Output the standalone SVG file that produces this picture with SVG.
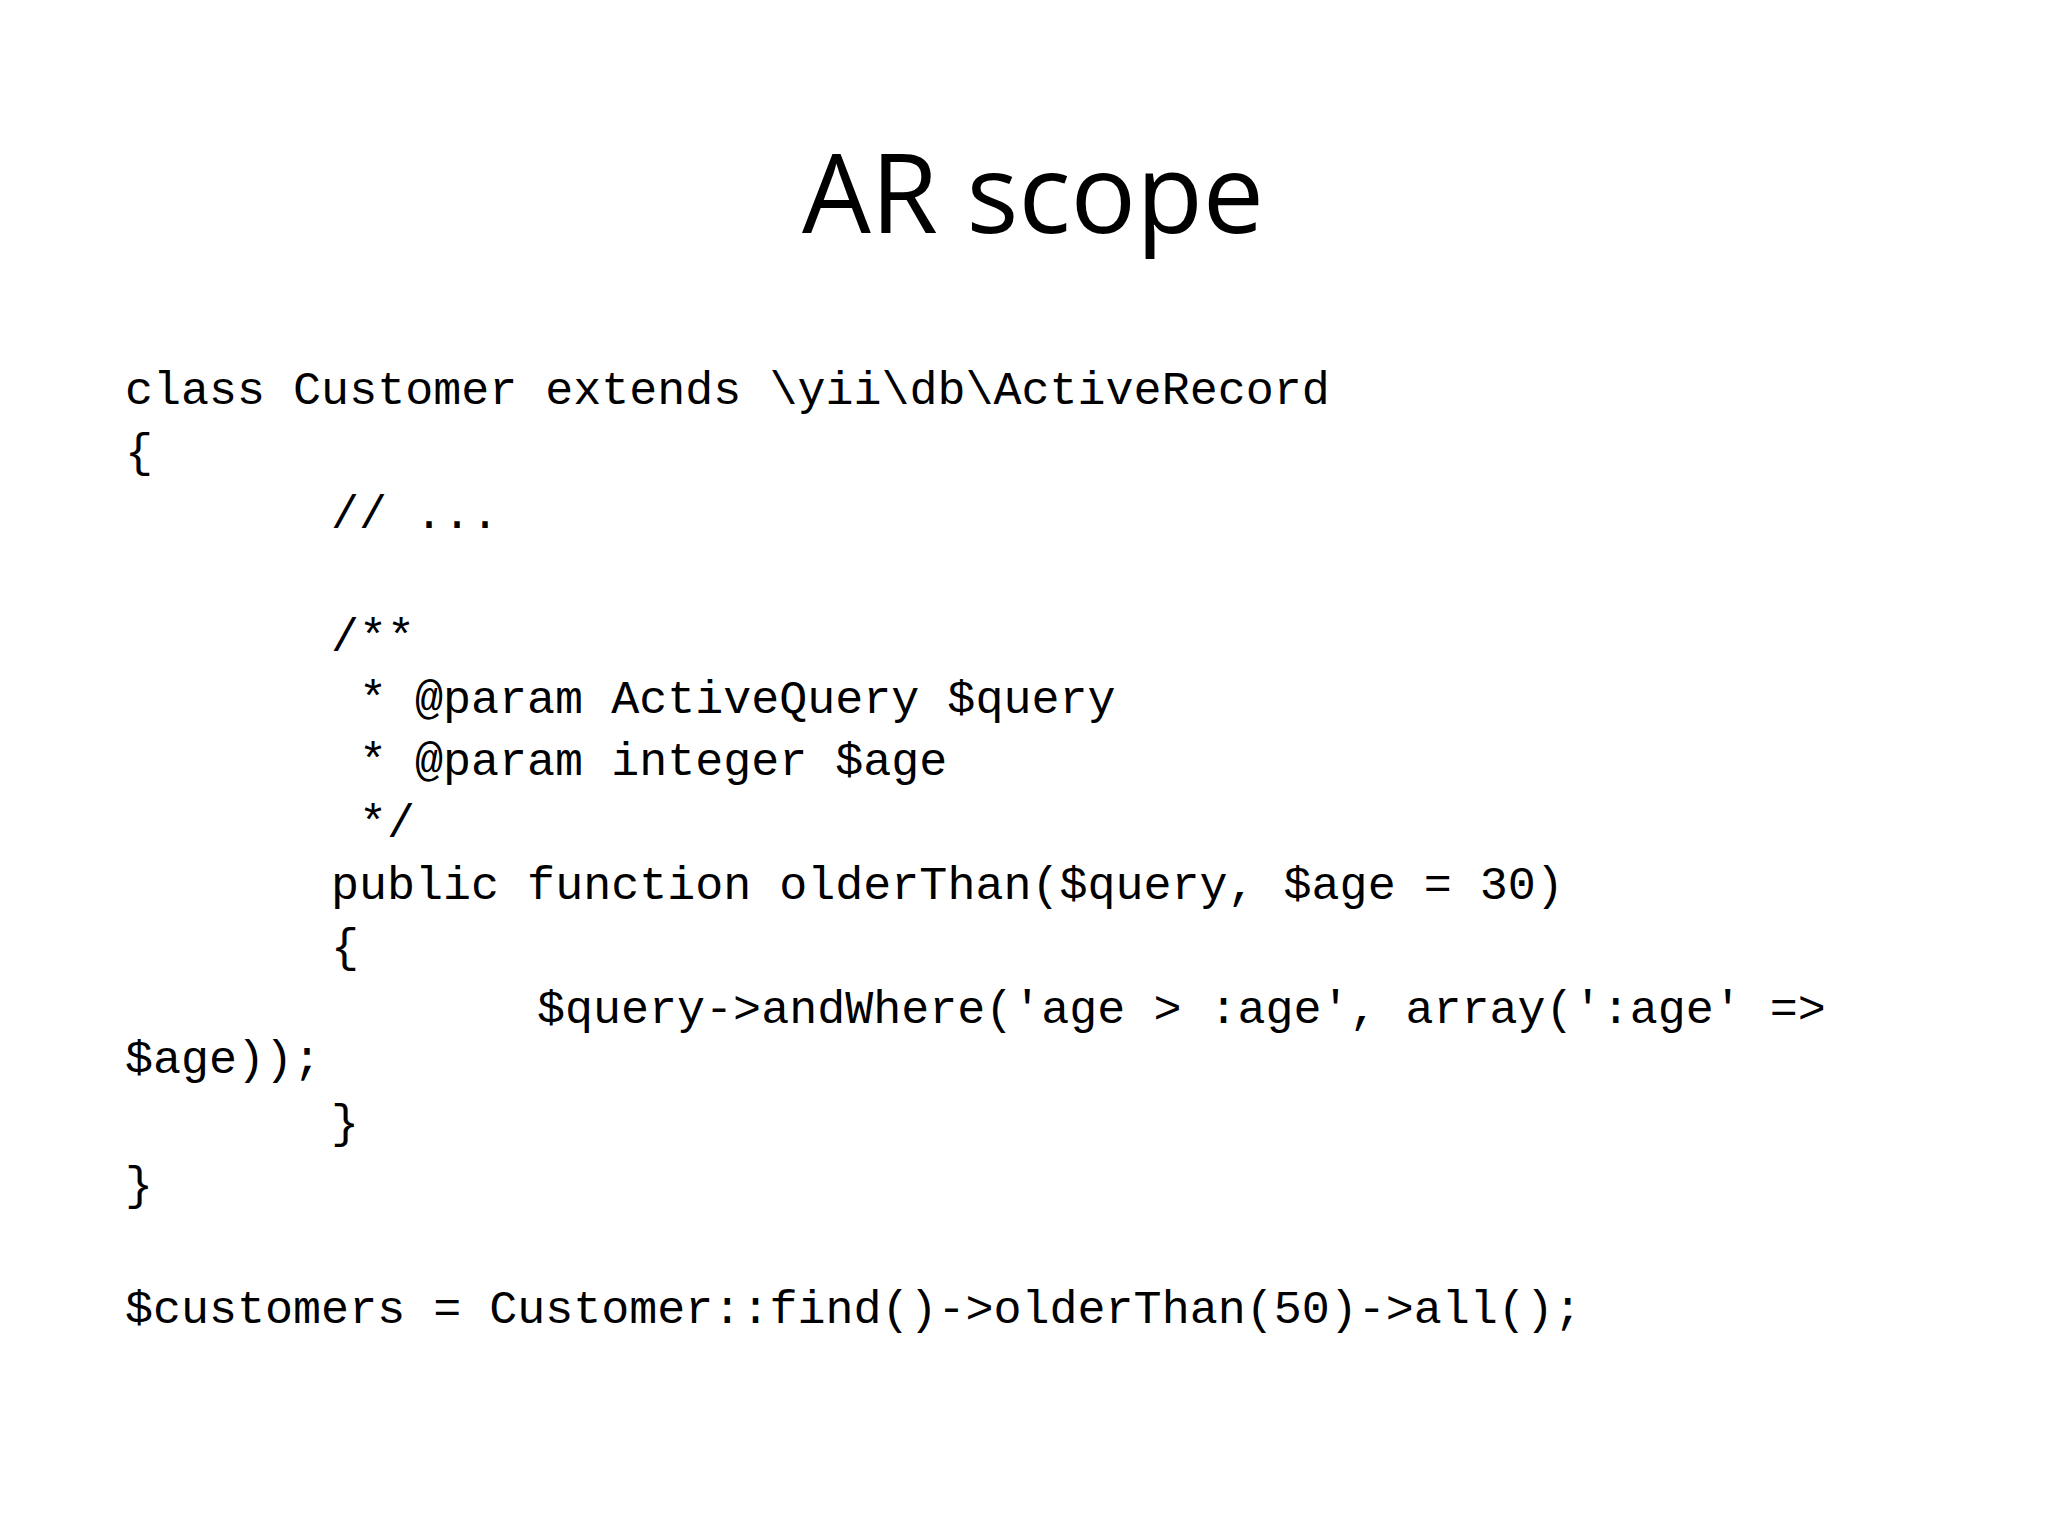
<svg xmlns="http://www.w3.org/2000/svg" width="2048" height="1536" viewBox="0 0 2048 1536">
<style>
.t{font-family:"Open Sans","Liberation Sans",sans-serif;font-size:109px;fill:#000}
.c{font-family:"Liberation Mono","DejaVu Sans Mono",monospace;font-size:46.7px;fill:#000;white-space:pre}
</style>
<rect width="2048" height="1536" fill="#fff"/>
<text class="t" x="1033" y="233" text-anchor="middle">AR scope</text>
<g id="code" transform="translate(0,-6)">
<text class="c" x="125" y="410">class Customer extends \yii\db\ActiveRecord</text>
<text class="c" x="125" y="472">{</text>
<text class="c" x="331" y="534">// ...</text>
<text class="c" x="331" y="657">/**</text>
<text class="c" x="359" y="719">* @param ActiveQuery $query</text>
<text class="c" x="359" y="781">* @param integer $age</text>
<text class="c" x="359" y="843">*/</text>
<text class="c" x="331" y="905">public function olderThan($query, $age = 30)</text>
<text class="c" x="331" y="967">{</text>
<text class="c" x="537" y="1029">$query-&gt;andWhere('age &gt; :age', array(':age' =&gt;</text>
<text class="c" x="125" y="1079">$age));</text>
<text class="c" x="331" y="1143">}</text>
<text class="c" x="125" y="1205">}</text>
<text class="c" x="125" y="1329">$customers = Customer::find()-&gt;olderThan(50)-&gt;all();</text>
</g>
</svg>
